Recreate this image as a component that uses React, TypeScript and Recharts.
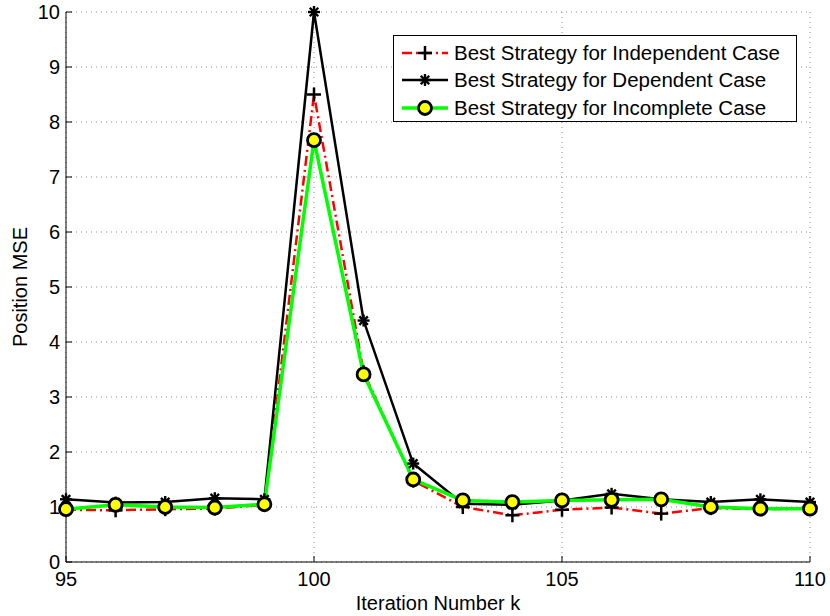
import React from 'react';
import { LineChart, Line, XAxis, YAxis, CartesianGrid, Legend } from 'recharts';

const iterations = [95, 96, 97, 98, 99, 100, 101, 102, 103, 104, 105, 106, 107, 108, 109, 110];
const independentMse = [0.95, 0.94, 0.96, 0.97, 1.04, 8.5, 3.45, 1.48, 1.0, 0.85, 0.95, 0.99, 0.88, 0.98, 0.96, 0.97];
const dependentMse = [1.14, 1.08, 1.09, 1.16, 1.14, 10, 4.39, 1.79, 1.06, 1.04, 1.12, 1.24, 1.14, 1.09, 1.14, 1.09];
const incompleteMse = [0.96, 1.04, 1.0, 0.99, 1.05, 7.67, 3.41, 1.5, 1.12, 1.09, 1.12, 1.13, 1.14, 1.0, 0.97, 0.97];

const xTicks = [95, 100, 105, 110];
const yTicks = [0, 1, 2, 3, 4, 5, 6, 7, 8, 9, 10];

const seriesNames = [
  'Best Strategy for Independent Case',
  'Best Strategy for Dependent Case',
  'Best Strategy for Incomplete Case',
];

const FONT = '"Liberation Sans", Arial, Helvetica, sans-serif';

const data = iterations.map((k, i) => ({
  k,
  independent: independentMse[i],
  dependent: dependentMse[i],
  incomplete: incompleteMse[i],
}));

// markers
const PlusMark = ({ cx, cy }: any) => {
  if (cx == null || cy == null) return null;
  return (
    <g>
      <line x1={cx - 7} y1={cy} x2={cx + 7} y2={cy} stroke="#000" strokeWidth={2.5} />
      <line x1={cx} y1={cy - 7} x2={cx} y2={cy + 7} stroke="#000" strokeWidth={2.5} />
    </g>
  );
};

const StarMark = ({ cx, cy }: any) => {
  if (cx == null || cy == null) return null;
  const r = 6;
  const d = r * 0.707;
  return (
    <g stroke="#000" strokeWidth={2.4}>
      <line x1={cx - r} y1={cy} x2={cx + r} y2={cy} />
      <line x1={cx} y1={cy - r} x2={cx} y2={cy + r} />
      <line x1={cx - d} y1={cy - d} x2={cx + d} y2={cy + d} />
      <line x1={cx - d} y1={cy + d} x2={cx + d} y2={cy - d} />
    </g>
  );
};

const CircleMark = ({ cx, cy }: any) => {
  if (cx == null || cy == null) return null;
  return <circle cx={cx} cy={cy} r={6.5} fill="#ffff00" stroke="#000" strokeWidth={2.8} />;
};

const LegendBox = () => (
  <div
    style={{
      width: 404,
      height: 87,
      border: '1.5px solid #000',
      background: '#fff',
      fontFamily: FONT,
      fontSize: 20.5,
      color: '#000',
      padding: '3px 0 0 0',
      boxSizing: 'border-box',
    }}
  >
    {seriesNames.map((name, i) => (
      <div key={name} style={{ display: 'flex', alignItems: 'center', height: 27.5 }}>
        <svg width={60} height={20} style={{ flex: 'none' }}>
          {i === 0 && (
            <>
              <line x1={8} y1={10} x2={54} y2={10} stroke="#ff0000" strokeWidth={2.5} strokeDasharray="10 4 2 4" />
              <PlusMark cx={31} cy={10} />
            </>
          )}
          {i === 1 && (
            <>
              <line x1={8} y1={10} x2={54} y2={10} stroke="#000" strokeWidth={2.5} />
              <StarMark cx={31} cy={10} />
            </>
          )}
          {i === 2 && (
            <>
              <line x1={8} y1={10} x2={54} y2={10} stroke="#00ff00" strokeWidth={3.5} />
              <CircleMark cx={31} cy={10} />
            </>
          )}
        </svg>
        <span style={{ whiteSpace: 'nowrap' }}>{name}</span>
      </div>
    ))}
  </div>
);

const tickStyle = { fill: '#000', fontSize: 20, fontFamily: FONT };

export default function App() {
  return (
    <div style={{ position: 'absolute', left: 0, top: 0, background: '#fff' }}>
      <LineChart width={830} height={616} data={data} margin={{ top: 12, right: 20, bottom: 0, left: 26 }}>
        <CartesianGrid stroke="#8c8c8c" strokeDasharray="1 4" strokeWidth={1} />
        <XAxis
          dataKey="k"
          type="number"
          domain={[95, 110]}
          ticks={xTicks}
          height={54}
          stroke="#000"
          tickSize={-6}
          tickMargin={16}
          tick={tickStyle}
          label={{ value: 'Iteration Number k', position: 'insideBottom', offset: 6, fill: '#000', fontSize: 20, fontFamily: FONT }}
        />
        <XAxis
          xAxisId="top"
          dataKey="k"
          type="number"
          orientation="top"
          domain={[95, 110]}
          ticks={xTicks}
          height={0}
          stroke="#000"
          tickSize={-6}
          tickFormatter={() => ''}
        />
        <YAxis
          type="number"
          domain={[0, 10]}
          ticks={yTicks}
          width={40}
          stroke="#000"
          tickSize={-6}
          tickMargin={12}
          tick={tickStyle}
          interval={0}
          label={{ value: 'Position MSE', angle: -90, position: 'insideLeft', offset: -6, fill: '#000', fontSize: 20, fontFamily: FONT, style: { textAnchor: 'middle' } }}
        />
        <YAxis
          yAxisId="right"
          orientation="right"
          type="number"
          domain={[0, 10]}
          ticks={yTicks}
          width={0}
          stroke="#000"
          tickSize={-6}
          tickFormatter={() => ''}
        />
        <Legend
          layout="vertical"
          verticalAlign="middle"
          align="center"
          content={<LegendBox />}
          wrapperStyle={{ left: 393, top: 35, width: 404 }}
        />
        <Line
          dataKey="independent"
          name={seriesNames[0]}
          stroke="#ff0000"
          strokeWidth={2.5}
          strokeDasharray="10 4 2 4"
          dot={<PlusMark />}
          activeDot={false}
          isAnimationActive={false}
        />
        <Line
          dataKey="dependent"
          name={seriesNames[1]}
          stroke="#000"
          strokeWidth={2.5}
          dot={<StarMark />}
          activeDot={false}
          isAnimationActive={false}
        />
        <Line
          dataKey="incomplete"
          name={seriesNames[2]}
          stroke="#00ff00"
          strokeWidth={3.5}
          dot={<CircleMark />}
          activeDot={false}
          isAnimationActive={false}
        />
      </LineChart>
    </div>
  );
}
